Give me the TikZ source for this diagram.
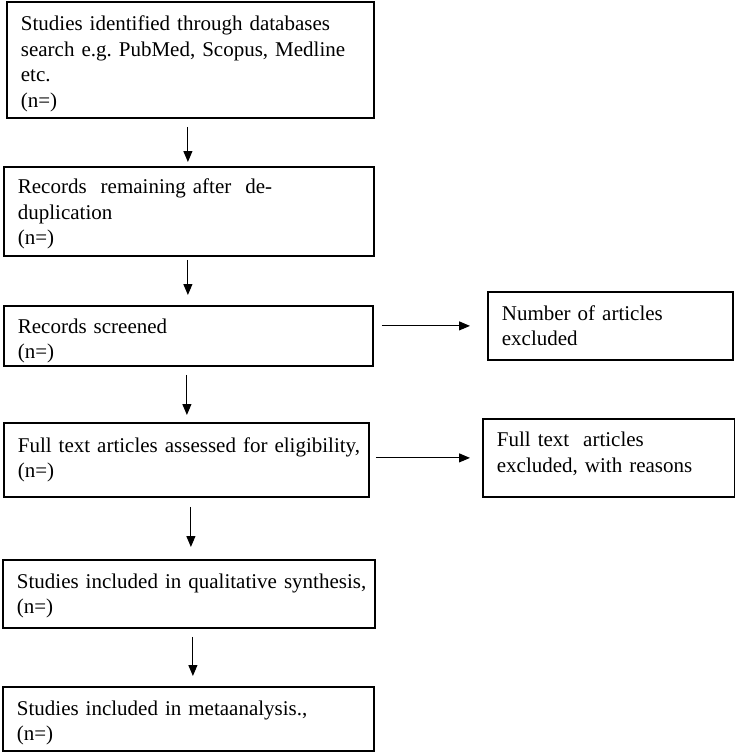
\documentclass[tikz,border=0pt]{standalone}
\usepackage{fontspec}
\setmainfont{Liberation Serif}
\usetikzlibrary{arrows.meta}
\newcommand{\oneline}[1]{\mbox{#1}}
\frenchspacing
\begin{document}
\begin{tikzpicture}[x=1pt,y=-1pt,
  every node/.style={font=\fontsize{21}{25.5}\selectfont},
  fbox/.style={draw=black, line width=1.8pt, rectangle, anchor=north west,
    inner xsep=14pt, inner ysep=2pt, align=left},
  tdown/.style={execute at begin node={\rule{0pt}{#1}}},
  tup/.style={execute at end node={\rule[-#1]{0pt}{#1}}},
  arr/.style={-{Triangle[length=11pt,width=9pt]}, line width=1.1pt, black}]
\useasboundingbox (0,0) rectangle (735,752);
\node[fbox, tdown=22.5pt, minimum width=367pt, minimum height=116pt, text width=339pt] (b1) at (6,1)
  {\oneline{Studies identified through databases}\\\oneline{search e.g. PubMed, Scopus, Medline}\\etc.\\(n=)};
\node[fbox, tdown=20.5pt, minimum width=370pt, minimum height=89pt, text width=342pt] (b2) at (3,166)
  {\oneline{Records\ \ remaining after\ \ de-}\\duplication\\(n=)};
\node[fbox, tdown=24.5pt, minimum width=369pt, minimum height=60pt, text width=341pt] (b3) at (3,305)
  {Records screened\\(n=)};
\node[fbox, minimum width=365pt, minimum height=74pt, text width=337pt] (b4) at (3,422)
  {\oneline{Full text articles assessed for eligibility,}\\(n=)};
\node[fbox, tdown=18.5pt, minimum width=372pt, minimum height=68pt, text width=344pt] (b5) at (2,559)
  {\oneline{Studies included in qualitative synthesis,}\\(n=)};
\node[fbox, tdown=22.5pt, minimum width=371pt, minimum height=64pt, text width=343pt] (b6) at (2,686)
  {\oneline{Studies included in metaanalysis.,}\\(n=)};
\node[fbox, minimum width=245pt, minimum height=68pt, text width=217pt] (e1) at (487,291)
  {\oneline{Number of articles}\\excluded};
\node[fbox, tup=11pt, minimum width=252pt, minimum height=78pt, text width=224pt] (e2) at (482,418)
  {\oneline{Full text\ \ articles}\\\oneline{excluded, with reasons}};
\coordinate (a1) at ([xshift=-2.5pt]b1.south);
\coordinate (a2) at ([xshift=-1pt]b2.south);
\coordinate (a3) at ([xshift=-1.5pt]b3.south);
\coordinate (a4) at ([xshift=4.5pt]b4.south);
\coordinate (a5) at ([xshift=4pt]b5.south);
\draw[arr, shorten <=8pt, shorten >=4pt] (a1) -- (a1 |- b2.north);
\draw[arr, shorten <=3pt, shorten >=10pt] (a2) -- (a2 |- b3.north);
\draw[arr, shorten <=8pt, shorten >=7pt] (a3) -- (a3 |- b4.north);
\draw[arr, shorten <=9pt, shorten >=12pt] (a4) -- (a4 |- b5.north);
\draw[arr, shorten <=8pt, shorten >=10pt] (a5) -- (a5 |- b6.north);
\draw[arr, shorten <=8pt, shorten >=17pt] (b3.east |- e1.west) -- (e1.west);
\draw[arr, shorten <=6pt, shorten >=12pt] (b4.east |- e2.west) -- (e2.west);
\end{tikzpicture}
\end{document}
